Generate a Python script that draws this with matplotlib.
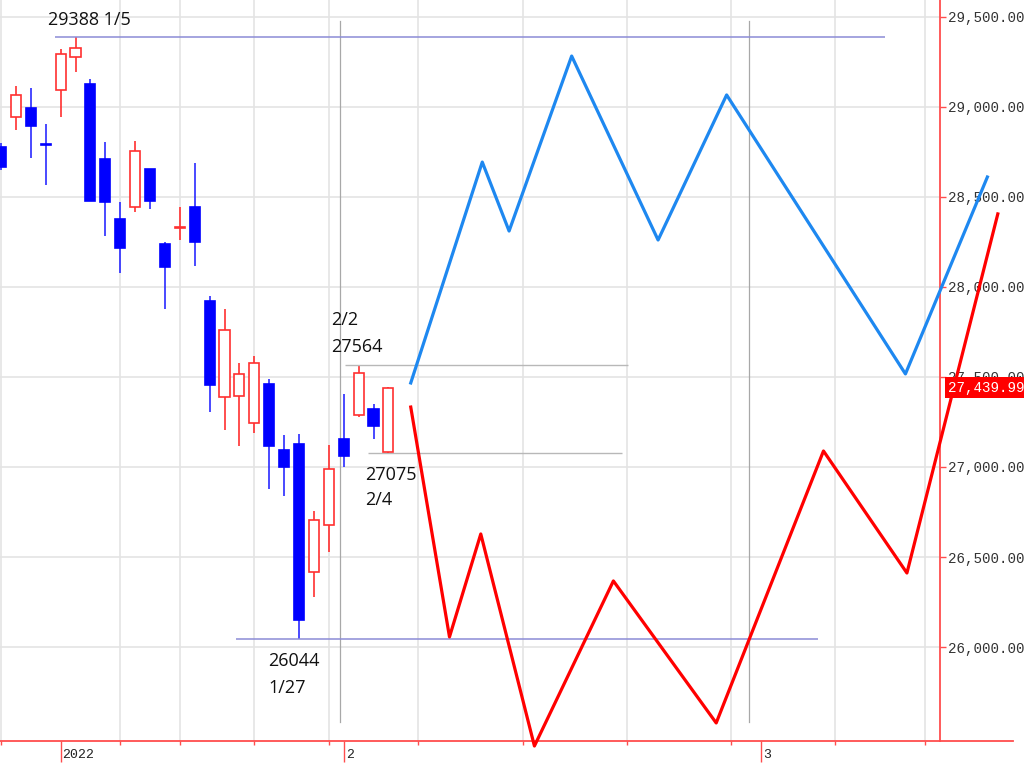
"""Nikkei daily candles (end of Dec 2021 to 2/4) with two projected zig-zag paths."""

import matplotlib

matplotlib.use("Agg")
import matplotlib.pyplot as plt
import matplotlib.transforms as mtransforms

# one slot per trading day; after 2/4 the axis runs on calendar days
dates = ["12/27", "12/28", "12/29", "12/30", "1/4", "1/5", "1/6", "1/7", "1/11",
         "1/12", "1/13", "1/14", "1/17", "1/18", "1/19", "1/20", "1/21", "1/24",
         "1/25", "1/26", "1/27", "1/28", "1/31", "2/1", "2/2", "2/3", "2/4"]
opens = [28778, 28944, 28994, 28795, 29094, 29278, 29128, 28711, 28378, 28444,
         28656, 28239, 28328, 28444, 27922, 27389, 27394, 27244, 27461, 27094,
         27128, 26417, 26678, 27156, 27289, 27322, 27083]
highs = [28800, 29117, 29106, 28906, 29322, 29388, 29156, 28806, 28472, 28811,
         28656, 28250, 28444, 28689, 27950, 27878, 27578, 27617, 27489, 27178,
         27183, 26756, 27122, 27406, 27564, 27350, 27444]
lows = [28650, 28872, 28717, 28567, 28944, 29194, 28478, 28283, 28078, 28417,
        28433, 27878, 28261, 28117, 27306, 27206, 27117, 27189, 26878, 26839,
        26044, 26278, 26528, 27000, 27278, 27156, 27075]
closes = [28667, 29067, 28894, 28790, 29294, 29328, 28478, 28472, 28217, 28756,
          28478, 28111, 28333, 28250, 27456, 27761, 27517, 27578, 27117, 27000,
          26150, 26706, 26989, 27061, 27522, 27228, 27440]

# projected paths (x in day slots)
up_x = [27.5, 32.3, 34.1, 38.3, 44.1, 48.7, 60.7, 66.2]
up_y = [27467, 28694, 28311, 29283, 28261, 29067, 27517, 28611]
down_x = [27.5, 30.1, 32.2, 35.8, 41.1, 48.0, 55.2, 60.8, 66.9]
down_y = [27333, 26056, 26628, 25450, 26367, 25578, 27089, 26411, 28406]

week_slots = [0, 4, 8, 12, 17, 22, 28, 35, 42, 49, 56, 62]
month_slots = [4, 23, 51]
month_labels = ["2022", "2", "3"]
month_breaks = [22.75, 50.2]
price_ticks = [26000, 26500, 27000, 27500, 28000, 28500, 29000, 29500]
last_price = 27439.99

RED = "#ff3030"
AXIS_RED = "#ff4d4d"
BLUE = "#0000ff"
MONO = ["Liberation Mono", "DejaVu Sans Mono"]

fig = plt.figure(figsize=(10.24, 7.68), dpi=100)
ax = fig.add_axes([0, 27 / 768, 940 / 1024, 741 / 768])
ax.set_xlim(-1 / 14.9, 939 / 14.9)
ax.set_ylim(25477.8, 29594.4)
ax.set_axisbelow(True)

# candles
for i in range(len(dates)):
    o, h, l, c = opens[i], highs[i], lows[i], closes[i]
    up = c >= o
    col = RED if up else BLUE
    ax.vlines(i, l, h, color=col if up else "#2a2aff", lw=1.2, zorder=2)
    ax.bar(i, abs(c - o), bottom=min(o, c), width=0.68,
           facecolor="white" if up else BLUE, edgecolor=col, lw=1.2, zorder=3)

# reference lines for the marked highs / lows
ax.hlines(29388, 3.6, 59.3, color="#8c8cd6", lw=1.1, zorder=2)
ax.hlines(26044, 15.8, 54.8, color="#8c8cd6", lw=1.1, zorder=2)
ax.hlines(27564, 23.1, 42.1, color="#b8b8b8", lw=1.0, zorder=2)
ax.hlines(27075, 24.6, 41.7, color="#b8b8b8", lw=1.0, zorder=2)

for xb in month_breaks:
    ax.axvline(xb, ymin=0.026, ymax=0.972, color="#a8a8a8", lw=0.9, zorder=1)

txt = dict(fontsize=13, family=["Open Sans", "DejaVu Sans"], color="#111111",
           va="center", ha="left")
ax.text(3.15, 29483, "29388 1/5", **txt)
ax.text(22.15, 27817, "2/2", **txt)
ax.text(22.15, 27667, "27564", **txt)
ax.text(24.43, 26956, "27075", **txt)
ax.text(24.43, 26817, "2/4", **txt)
ax.text(17.92, 25922, "26044", **txt)
ax.text(17.92, 25772, "1/27", **txt)

ax.plot(up_x, up_y, color="#1e88f0", lw=2.3, clip_on=False, zorder=4)
ax.plot(down_x, down_y, color="#ff0000", lw=2.3, clip_on=False, zorder=4)

# axes styling
for side in ("top", "left"):
    ax.spines[side].set_visible(False)
for side in ("right", "bottom"):
    ax.spines[side].set_color(AXIS_RED)
    ax.spines[side].set_linewidth(1.3)
ax.plot([1, 1013 / 940], [0, 0], transform=ax.transAxes, color=AXIS_RED,
        lw=1.3, clip_on=False)

ax.yaxis.tick_right()
ax.set_yticks(price_ticks)
ax.set_yticklabels([f"{v:,.2f}" for v in price_ticks])
ax.tick_params(axis="y", direction="out", length=4.5, width=1.0, color=AXIS_RED,
               pad=1.5, labelsize=10.2, labelcolor="#333333")
for lab in ax.get_yticklabels():
    lab.set_fontfamily(MONO)

ax.set_xticks(week_slots, minor=True)
ax.set_xticks(month_slots)
ax.set_xticklabels([])
ax.tick_params(axis="x", which="minor", direction="out", length=3, width=1.0,
               color=AXIS_RED)
ax.tick_params(axis="x", which="major", direction="out", length=15, width=1.0,
               color=AXIS_RED)

ax.xaxis.grid(True, which="minor", color="#e4e4e4", lw=1.2)
ax.xaxis.grid(False, which="major")
ax.yaxis.grid(True, which="major", color="#e4e4e4", lw=1.2)

lab_tr = mtransforms.offset_copy(
    mtransforms.blended_transform_factory(ax.transData, ax.transAxes),
    fig=fig, x=2, y=-14, units="dots")
for xs, name in zip(month_slots, month_labels):
    ax.text(xs, 0, name, transform=lab_tr, ha="left", va="center",
            fontsize=9.5, family=MONO, color="#222222")

# last price tag
ax.text(1.009, last_price, f"{last_price:,.2f}",
        transform=mtransforms.blended_transform_factory(ax.transAxes, ax.transData),
        ha="left", va="center", color="white", fontsize=10.2, family=MONO,
        bbox=dict(boxstyle="square,pad=0.25", fc="#ff0000", ec="none"), zorder=5)

fig.savefig("out.png", dpi=100, facecolor="white")
